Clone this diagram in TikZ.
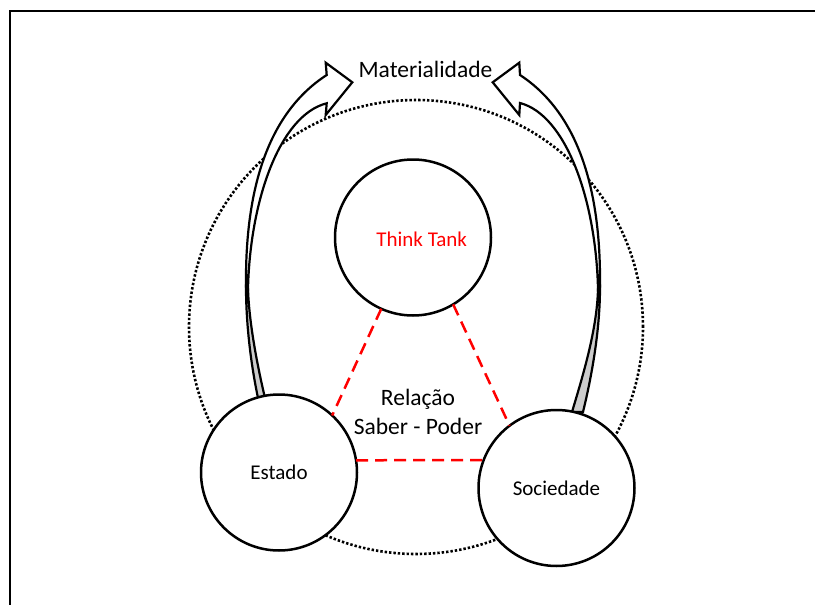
\documentclass[tikz,border=0pt]{standalone}
\usepackage{fontspec}
\setmainfont{Carlito}

\begin{document}
\begin{tikzpicture}[x=1pt, y=-1pt,
    actor/.style={draw, circle, fill=white, line width=2.5pt, inner sep=0pt, outer sep=0pt, minimum size=156pt, font=\fontsize{21}{25}\selectfont},
    link/.style={draw=red, line width=2.5pt, dash pattern=on 12pt off 7pt},
    bigtext/.style={font=\fontsize{23.5}{28.7}\selectfont, align=center},
    arrowbody/.style={line width=2.2pt, fill=white},
    arrowtwist/.style={line width=2.2pt, fill=black!20}]
    \useasboundingbox (0,0) rectangle (815,605);
    \draw[line width=2pt] (10,605) -- (10,11) -- (815,11);

    % orbit
    \draw[line width=2.6pt, dash pattern=on 2.4pt off 2pt] (416,327) circle[radius=227pt];

    % left arrow
    \draw[arrowtwist] (258,398) .. controls (250,360) and (246,320) .. (246,287)
        -- (248,289) .. controls (249,320) and (256,360) .. (265,398) -- cycle;
    \draw[arrowbody] (246,287) .. controls (245,195) and (265,115) .. (326.7,75)
        -- (325.7,62.7) -- (352.3,82.3) -- (325.7,115) -- (326.7,103.3)
        .. controls (280,115) and (250,200) .. (248,289) -- cycle;

    % right arrow
    \draw[arrowtwist] (600,287) .. controls (600,330) and (592,375) .. (583,412)
        -- (572,412) .. controls (583,375) and (597,330) .. (598,289) -- cycle;
    \draw[arrowbody] (600,287) .. controls (601,195) and (581,115) .. (520,75)
        -- (519.3,62.7) -- (492.7,82.3) -- (519.3,115) -- (520,103)
        .. controls (566,115) and (596,200) .. (598,289) -- cycle;

    \node[actor] (tank) at (413,237.5) {};
    \node[text=red, font=\fontsize{21}{25}\selectfont] (tanklabel) at (421.7,239) {Think Tank};
    \node[actor] (estado) at (279,472.5) {Estado};
    \node[actor] (sociedade) at (556.5,488) {Sociedade};

    % saber - poder
    \draw[link] (tank.246) -- (estado.47);
    \draw[link] (tank.301) -- (sociedade.127);
    \draw[link] (estado.9) -- (sociedade.159.5);

    \node[bigtext] (materialidade) at (425.5,69) {Materialidade};
    \node[bigtext] (relacao) at (418,412) {Relação\\Saber - Poder};
\end{tikzpicture}
\end{document}
